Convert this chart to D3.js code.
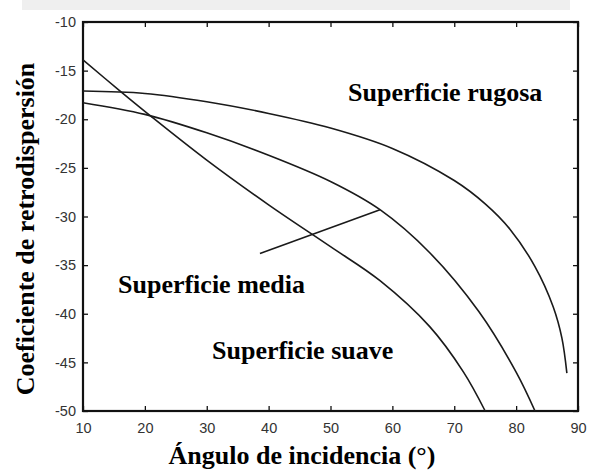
<!DOCTYPE html>
<html>
<head>
<meta charset="utf-8">
<script src="https://cdn.jsdelivr.net/npm/d3@7"></script>
<style>
  html, body { margin: 0; padding: 0; background: #fff; }
  svg { display: block; }
</style>
</head>
<body>
<svg id="chart" width="590" height="472"></svg>
<script>
// Backscatter coefficient vs. incidence angle for three surface roughnesses
const xTicks = [10, 20, 30, 40, 50, 60, 70, 80, 90];
const yTicks = [-10, -15, -20, -25, -30, -35, -40, -45, -50];

const suaveAngles = [10, 16, 21, 30, 40, 50, 58, 66, 71.5, 75];
const suaveValues = [-13.9, -17.1, -19.7, -24.2, -28.8, -33.1, -36.6, -41.3, -46.0, -50];

const mediaAngles = [10, 20, 30, 40, 50, 58, 66, 74, 80, 83.05];
const mediaValues = [-18.3, -19.5, -21.4, -23.7, -26.4, -29.3, -33.7, -39.8, -46.0, -50];

const rugosaAngles = [10, 20, 30, 40, 50, 60, 70, 75, 79, 83, 86, 87.4, 88.2];
const rugosaValues = [-17.1, -17.35, -18.2, -19.4, -20.9, -23.0, -26.3, -28.7, -31.3, -35.1, -39.3, -42.5, -46.1];

// pointer from the "Superficie media" label to its curve
const pointerAngles = [38.6, 58];
const pointerValues = [-33.8, -29.3];

const labels = [
  { text: "Superficie rugosa", x: 348, y: 101 },
  { text: "Superficie media",  x: 118, y: 293 },
  { text: "Superficie suave",  x: 212, y: 359 }
];

const svg = d3.select("#chart");
const plotL = 83, plotR = 578, plotT = 22, plotB = 411;

const x = d3.scaleLinear().domain([10, 90]).range([plotL, plotR]);
const y = d3.scaleLinear().domain([-50, -10]).range([plotB, plotT]);

// faint band along the top edge
svg.append("rect").attr("x", 22).attr("y", 0).attr("width", 548).attr("height", 10)
  .attr("fill", "#efefef");

const serif = "'Liberation Serif', 'Times New Roman', serif";
const sans = "'Liberation Sans', Arial, sans-serif";

// axes with inward ticks, mirrored on top/right
function styleAxis(g, showText) {
  g.select(".domain").remove();
  g.selectAll(".tick line").attr("stroke", "#111").attr("stroke-width", 1.3);
  g.selectAll(".tick text")
    .attr("font-family", sans).attr("font-size", 14.5).attr("fill", "#333")
    .style("display", showText ? null : "none");
}

svg.append("g").attr("transform", `translate(0,${plotB})`)
  .call(d3.axisBottom(x).tickValues(xTicks).tickSize(-5).tickPadding(12).tickFormat(d3.format("d")))
  .call(g => styleAxis(g, true));
svg.append("g").attr("transform", `translate(0,${plotT})`)
  .call(d3.axisTop(x).tickValues(xTicks).tickSize(-5).tickFormat(""))
  .call(g => styleAxis(g, false));
svg.append("g").attr("transform", `translate(${plotL},0)`)
  .call(d3.axisLeft(y).tickValues(yTicks).tickSize(-5).tickPadding(7).tickFormat(d => d3.format("d")(d).replace("−", "-")))
  .call(g => styleAxis(g, true));
svg.append("g").attr("transform", `translate(${plotR},0)`)
  .call(d3.axisRight(y).tickValues(yTicks).tickSize(-5).tickFormat(""))
  .call(g => styleAxis(g, false));

// frame
svg.append("rect").attr("x", plotL).attr("y", plotT)
  .attr("width", plotR - plotL).attr("height", plotB - plotT)
  .attr("fill", "none").attr("stroke", "#111").attr("stroke-width", 2.2);

const line = d3.line().x(d => x(d[0])).y(d => y(d[1])).curve(d3.curveCatmullRom.alpha(0.5));
const series = [
  d3.zip(suaveAngles, suaveValues),
  d3.zip(mediaAngles, mediaValues),
  d3.zip(rugosaAngles, rugosaValues)
];
svg.append("g").selectAll("path").data(series).join("path")
  .attr("d", line).attr("fill", "none")
  .attr("stroke", "#1a1a1a").attr("stroke-width", 1.6);

svg.append("path")
  .attr("d", d3.line().x(d => x(d[0])).y(d => y(d[1]))(d3.zip(pointerAngles, pointerValues)))
  .attr("fill", "none").attr("stroke", "#1a1a1a").attr("stroke-width", 1.6);

// curve labels
svg.append("g").selectAll("text").data(labels).join("text")
  .attr("x", d => d.x).attr("y", d => d.y)
  .attr("font-family", serif).attr("font-weight", "bold").attr("font-size", 26)
  .attr("fill", "#000").text(d => d.text);

// axis titles
svg.append("text").attr("x", 302).attr("y", 464).attr("text-anchor", "middle")
  .attr("font-family", serif).attr("font-weight", "bold").attr("font-size", 26)
  .text("Ángulo de incidencia (°)");
svg.append("text").attr("transform", "translate(34,229) rotate(-90)").attr("text-anchor", "middle")
  .attr("font-family", serif).attr("font-weight", "bold").attr("font-size", 26)
  .text("Coeficiente de retrodispersión");
</script>
</body>
</html>
